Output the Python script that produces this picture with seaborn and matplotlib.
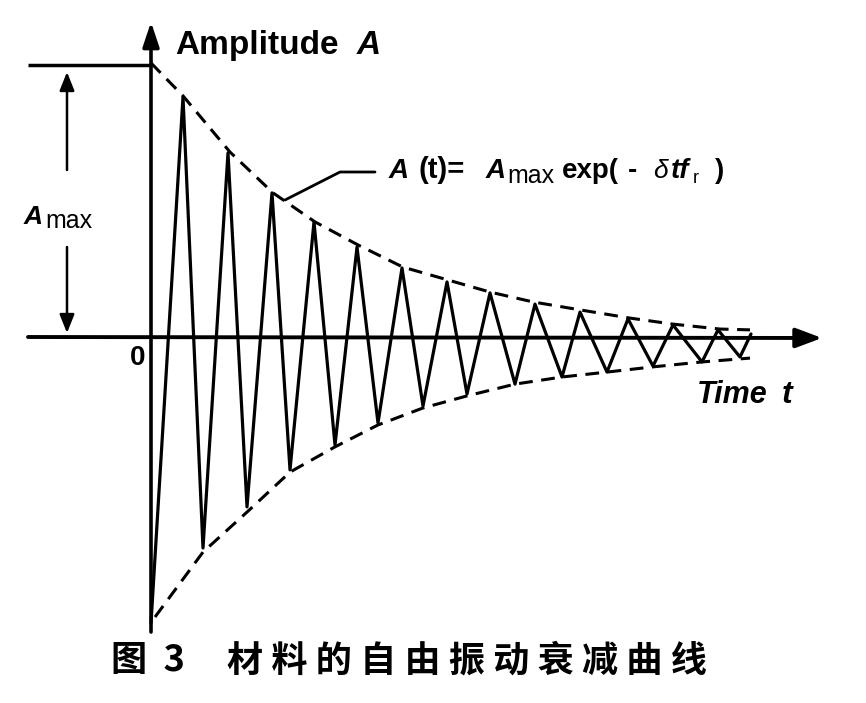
import matplotlib
matplotlib.use("Agg")
import matplotlib.pyplot as plt
import seaborn as sns
import pandas as pd

sns.set_theme(style="white")
plt.rcParams["font.family"] = ["Liberation Sans", "DejaVu Sans"]
plt.rcParams["text.color"] = "black"

# ---- data (time in arbitrary units, amplitude relative to A_max) ----
curve_t = [0.00, 0.32, 0.52, 0.77, 0.96, 1.21, 1.39, 1.63, 1.84, 2.06, 2.27, 2.51, 2.72, 2.96,
           3.16, 3.39, 3.64, 3.84, 4.11, 4.29, 4.56, 4.77, 5.02, 5.22, 5.51, 5.67, 5.89, 6.00]
curve_a = [-1.044, 0.876, -0.770, 0.672, -0.620, 0.526, -0.485, 0.420, -0.394, 0.328, -0.314,
           0.252, -0.252, 0.201, -0.208, 0.161, -0.172, 0.120, -0.146, 0.091, -0.128, 0.066,
           -0.106, 0.044, -0.091, 0.026, -0.073, 0.011]

upper_t = [0.00, 0.32, 0.79, 1.22, 1.64, 2.07, 2.52, 2.97, 3.39, 3.82, 4.29, 4.79, 5.22, 5.69, 5.99]
upper_a = [1.000, 0.880, 0.675, 0.526, 0.420, 0.336, 0.255, 0.208, 0.164, 0.128, 0.099, 0.069,
           0.047, 0.029, 0.026]

lower_t = [0.04, 0.52, 0.96, 1.39, 1.84, 2.27, 2.72, 3.16, 3.64, 4.11, 4.56, 5.02, 5.51, 5.99]
lower_a = [-1.022, -0.785, -0.639, -0.493, -0.401, -0.321, -0.259, -0.215, -0.172, -0.146,
           -0.128, -0.109, -0.091, -0.077]

y_label = "Amplitude"
y_symbol = "A"
x_label = "Time"
x_symbol = "t"
origin_label = "0"
amax_sym, amax_sub = "A", "max"
# formula A (t)= A_max exp(- δ t f_r )
formula_parts = ["A", "(t)=", "A", "max", "exp(", "-", "δ", "tf", "r", ")"]
caption = "图  3"
caption_text = "材 料 的 自 由 振 动 衰 减 曲 线"

# ---- figure ----
W, H = 866, 703
fig = plt.figure(figsize=(W / 100, H / 100), dpi=100)
ax = fig.add_axes([0, 0, 1, 1])
X0, Y0, SX, SY = 151, 337, 100.0, 274.0
ax.set_xlim((0 - X0) / SX, (W - X0) / SX)
ax.set_ylim((Y0 - H) / SY, (Y0 - 0) / SY)
ax.axis("off")


def P(x, y):
    return ((x - X0) / SX, (Y0 - y) / SY)


def T(x, y, s, size, weight="bold", style="normal", ha="left", va="baseline", **kw):
    ax.text(*P(x, y), s, fontsize=size, fontweight=weight, fontstyle=style,
            ha=ha, va=va, color="black", **kw)


# oscillation and envelopes
df_c = pd.DataFrame({"t": curve_t, "a": curve_a})
df_u = pd.DataFrame({"t": upper_t, "a": upper_a})
df_l = pd.DataFrame({"t": lower_t, "a": lower_a})
sns.lineplot(data=df_c, x="t", y="a", sort=False, color="black", lw=2.3, ax=ax)
sns.lineplot(data=df_u, x="t", y="a", sort=False, color="black", lw=2.2,
             linestyle=(0, (4.5, 2.8)), ax=ax)
sns.lineplot(data=df_l, x="t", y="a", sort=False, color="black", lw=2.2,
             linestyle=(0, (4.5, 2.8)), ax=ax)

# axes with arrows
ax.annotate("", xy=P(822, 338), xytext=P(28, 337),
            arrowprops=dict(arrowstyle="-|>,head_length=0.8,head_width=0.3",
                            lw=2.8, color="black", mutation_scale=20, shrinkA=0, shrinkB=0))
ax.annotate("", xy=P(151, 22), xytext=P(151, 632),
            arrowprops=dict(arrowstyle="-|>,head_length=0.75,head_width=0.25",
                            lw=2.6, color="black", mutation_scale=20, shrinkA=0, shrinkB=0))

# A_max marker
ax.plot(*zip(P(28, 65), P(151, 65)), color="black", lw=2.5, solid_capstyle="butt")
ax.annotate("", xy=P(67, 72), xytext=P(67, 170),
            arrowprops=dict(arrowstyle="-|>,head_length=0.7,head_width=0.28",
                            lw=1.8, color="black", mutation_scale=16, shrinkA=0, shrinkB=0))
ax.annotate("", xy=P(67, 333), xytext=P(67, 247),
            arrowprops=dict(arrowstyle="-|>,head_length=0.7,head_width=0.28",
                            lw=1.8, color="black", mutation_scale=16, shrinkA=0, shrinkB=0))
T(24, 224, amax_sym, 19, style="italic")
T(45, 228, amax_sub, 18, weight="normal")

# leader line to formula
ax.plot(*zip(P(285, 200), P(340, 172), P(375, 172)), color="black", lw=2.0)
fx = [389, 419, 486, 507, 562, 628, 653, 671, 693, 715]
fy = [178, 178, 178, 183, 178, 178, 178, 178, 183, 178]
fsz = [20, 21, 20, 18, 20, 20, 19, 20, 13, 20]
fw = ["bold", "bold", "bold", "normal", "bold", "bold", "normal", "bold", "normal", "bold"]
fst = ["italic", "normal", "italic", "normal", "normal", "normal", "italic", "italic",
       "normal", "normal"]
for s, x, y, sz, w, st in zip(formula_parts, fx, fy, fsz, fw, fst):
    T(x, y, s, sz, weight=w, style=st)

# axis labels
T(175, 45, y_label, 24, va="center")
T(357, 45, y_symbol, 24, style="italic", va="center")
T(697, 395, x_label, 22, style="italic", va="center")
T(782, 395, x_symbol, 23, style="italic", va="center")
T(145, 358, origin_label, 20, ha="right", va="center")

# caption
cjk = ["Noto Sans CJK SC", "DejaVu Sans"]
T(111, 661, caption, 26, va="center", family=cjk)
T(227, 661, caption_text, 26, va="center", family=cjk)

fig.savefig("out.png", dpi=100, facecolor="white")
